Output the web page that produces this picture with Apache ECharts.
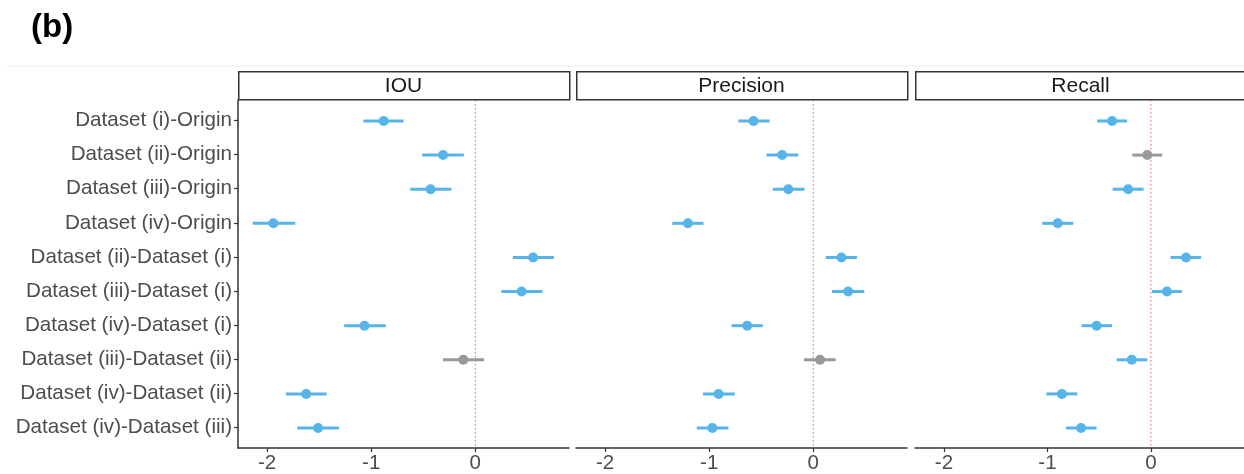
<!DOCTYPE html>
<html>
<head>
<meta charset="utf-8">
<script src="https://cdn.jsdelivr.net/npm/echarts@6/dist/echarts.min.js"></script>
<style>
html,body{margin:0;padding:0;background:#fff;}
#chart{width:1244px;height:474px;}
</style>
</head>
<body>
<div id="chart"></div>
<script>
// ---- data ----
const categories = [
  'Dataset (i)-Origin',
  'Dataset (ii)-Origin',
  'Dataset (iii)-Origin',
  'Dataset (iv)-Origin',
  'Dataset (ii)-Dataset (i)',
  'Dataset (iii)-Dataset (i)',
  'Dataset (iv)-Dataset (i)',
  'Dataset (iii)-Dataset (ii)',
  'Dataset (iv)-Dataset (ii)',
  'Dataset (iv)-Dataset (iii)'
];
const panels = ['IOU', 'Precision', 'Recall'];
const xTicks = [-2, -1, 0];
const refX = 0;

const iouEst = [-0.88, -0.31, -0.43, -1.94, 0.555, 0.445, -1.065, -0.115, -1.625, -1.51];
const iouLo  = [-1.075, -0.51, -0.625, -2.14, 0.36, 0.25, -1.26, -0.31, -1.82, -1.71];
const iouHi  = [-0.69, -0.11, -0.23, -1.73, 0.755, 0.645, -0.86, 0.085, -1.43, -1.31];

const precEst = [-0.575, -0.30, -0.24, -1.205, 0.27, 0.335, -0.635, 0.065, -0.91, -0.97];
const precLo  = [-0.72, -0.45, -0.39, -1.355, 0.12, 0.18, -0.785, -0.09, -1.06, -1.12];
const precHi  = [-0.42, -0.145, -0.085, -1.055, 0.42, 0.49, -0.485, 0.215, -0.755, -0.815];

const recEst = [-0.375, -0.035, -0.22, -0.90, 0.34, 0.155, -0.525, -0.185, -0.86, -0.675];
const recLo  = [-0.52, -0.18, -0.37, -1.05, 0.19, 0.01, -0.67, -0.33, -1.01, -0.82];
const recHi  = [-0.23, 0.11, -0.07, -0.75, 0.485, 0.30, -0.375, -0.035, -0.71, -0.525];

const panelData = [
  [iouEst, iouLo, iouHi],
  [precEst, precLo, precHi],
  [recEst, recLo, recHi]
];

// ---- layout / style ----
const FONT = 'Liberation Sans, Arial, sans-serif';
const BLUE = '#56B4E9';
const GRAY = '#999999';
const gridLefts = [238, 576, 915];
const gridWidth = 331;
const gridTop = 100;
const gridHeight = 348;
const X_MIN = -2.28, X_MAX = 0.9;
const Y_MIN = 0.4, Y_MAX = 10.6;

const grids = [], xAxes = [], yAxes = [], series = [], graphics = [];
const rowVals = categories.map((c, k) => k + 1);

panels.forEach((name, i) => {
  grids.push({left: gridLefts[i], top: gridTop, width: gridWidth, height: gridHeight, containLabel: false});
  xAxes.push({
    type: 'value', gridIndex: i, min: X_MIN, max: X_MAX,
    axisLine: {show: true, onZero: false, lineStyle: {color: '#333', width: 1.5}},
    axisTick: {show: true, customValues: xTicks, length: 4, lineStyle: {color: '#333', width: 1.2}},
    axisLabel: {show: true, customValues: xTicks, color: '#4d4d4d', fontSize: 20.5, fontFamily: FONT, margin: 5,
      formatter: v => String(v)},
    splitLine: {show: false}
  });
  yAxes.push({
    type: 'value', gridIndex: i, min: Y_MIN, max: Y_MAX, inverse: true,
    show: i === 0,
    axisLine: {show: true, onZero: false, lineStyle: {color: '#333', width: 1.5}},
    axisTick: {show: true, customValues: rowVals, length: 4, lineStyle: {color: '#333', width: 1.2}},
    axisLabel: {show: true, customValues: rowVals, color: '#4d4d4d', fontSize: 20.6, fontFamily: FONT, margin: 6,
      formatter: v => categories[Math.round(v) - 1] || ''},
    splitLine: {show: false}
  });
  // zero reference line
  series.push({
    type: 'line', xAxisIndex: i, yAxisIndex: i,
    data: [[refX, Y_MIN], [refX, Y_MAX]],
    symbol: 'none', silent: true,
    lineStyle: {color: '#e0454a', type: [1.5, 2.5], width: 1, opacity: 0.85},
    z: 1
  });
  const [est, lo, hi] = panelData[i];
  series.push({
    type: 'custom', xAxisIndex: i, yAxisIndex: i,
    data: est.map((e, k) => [e, lo[k], hi[k], k + 1]),
    encode: {x: [0, 1, 2], y: 3},
    renderItem: function (params, api) {
      const y = api.value(3);
      const l = api.value(1), h = api.value(2);
      const a = api.coord([l, y]);
      const b = api.coord([h, y]);
      const c = api.coord([api.value(0), y]);
      const col = (l > 0 || h < 0) ? BLUE : GRAY;
      return {
        type: 'group',
        children: [
          {type: 'line', shape: {x1: a[0], y1: a[1] + 0.5, x2: b[0], y2: b[1] + 0.5}, style: {stroke: col, lineWidth: 3}},
          {type: 'circle', shape: {cx: c[0], cy: c[1] + 0.5, r: 5}, style: {fill: col}}
        ]
      };
    },
    z: 3
  });
  // strip header
  graphics.push({
    type: 'rect', left: gridLefts[i], top: 71,
    shape: {width: gridWidth, height: 28},
    style: {fill: '#fff', stroke: '#333', lineWidth: 1.5}
  });
  graphics.push({
    type: 'text', x: gridLefts[i] + gridWidth / 2, y: 86,
    style: {text: name, fill: '#1a1a1a', font: '21px ' + FONT, textAlign: 'center', textVerticalAlign: 'middle'}
  });
});

graphics.push({
  type: 'text', x: 31, y: 28,
  style: {text: '(b)', fill: '#000', font: 'bold 33px ' + FONT, textAlign: 'left', textVerticalAlign: 'middle'}
});
graphics.push({
  type: 'line', shape: {x1: 7, y1: 66, x2: 1244, y2: 66},
  style: {stroke: '#ececec', lineWidth: 1}
});

const chart = echarts.init(document.getElementById('chart'), null, {renderer: 'canvas'});
chart.setOption({
  animation: false,
  backgroundColor: '#fff',
  grid: grids,
  xAxis: xAxes,
  yAxis: yAxes,
  series: series,
  graphic: graphics
});
</script>
</body>
</html>
